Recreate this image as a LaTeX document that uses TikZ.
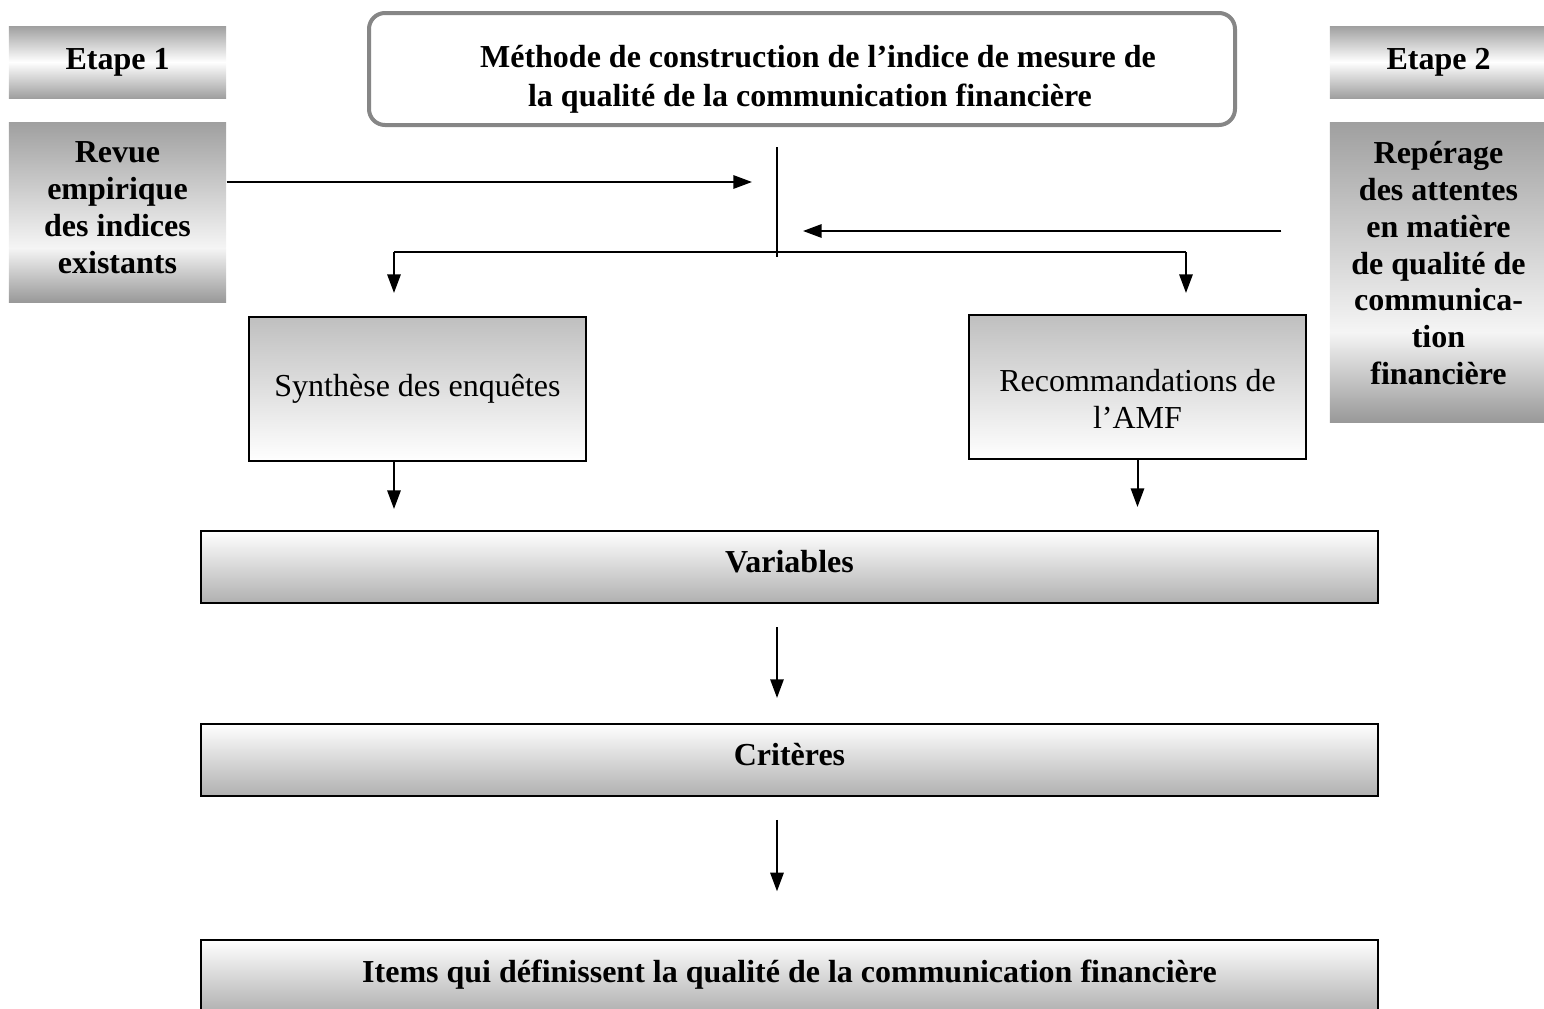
\documentclass[tikz,border=0pt]{standalone}
\usepackage{fontspec}
\setmainfont{Liberation Serif}
\usetikzlibrary{positioning}
\usetikzlibrary{calc}
\usetikzlibrary{arrows.meta}
\pgfdeclareverticalshading{metal}{100bp}{color(0bp)=(gray!80); color(25bp)=(gray!80); color(40bp)=(gray!8); color(75bp)=(gray!75); color(100bp)=(gray!75)}
\tikzstyle{etape} = [
	top color = gray!75,
	bottom color = gray!75,
	middle color = white,
	minimum width=81.4pt,
	minimum height=27pt,
	inner sep=0pt,
	font=\bfseries\fontsize{12}{13.8}\selectfont
]
\tikzstyle{revue} = [
	shading=metal,
	minimum width=81.4pt,
	inner sep=0pt,
	align=center,
	font=\bfseries\fontsize{12}{13.8}\selectfont
]
\tikzstyle{titre} = [
	draw=gray!95,
	line width=1.5pt,
	rounded corners=6pt,
	fill=white,
	minimum width=324.75pt,
	minimum height=42pt,
	align=center,
	font=\bfseries\fontsize{12}{14.6}\selectfont
]
\tikzstyle{source} = [
	draw,
	line width=0.75pt,
	top color = gray!50,
	bottom color = white,
	minimum width=126.4pt,
	minimum height=54pt,
	align=center,
	font=\fontsize{12}{13.8}\selectfont
]
\tikzstyle{etage} = [
	draw,
	line width=0.75pt,
	top color = white,
	bottom color = gray!62,
	minimum width=441.4pt,
	minimum height=27pt,
	text depth=4pt,
	font=\bfseries\fontsize{12}{13.8}\selectfont
]
\tikzstyle{fleche} = [
	-{Triangle[length=7pt,width=5pt]},
	line width=0.75pt
]

\begin{document}
\begin{tikzpicture}[x=0.375pt, y=-0.375pt]
	\useasboundingbox (0,0) rectangle (1544,1008);
	
	%
	% Etapes
	\node[etape] (e1) at (117.5,62) {Etape 1};
	\node[revue, minimum height=67.5pt, text depth=3.4pt] (rv) at (117.5,212) {Revue\\empirique\\des indices\\existants};
	\node[etape] (e2) at (1438.5,62) {Etape 2};
	\node[revue, minimum height=112.5pt, text depth=6.8pt] (rp) at (1438.5,272) {Repérage\\des attentes\\en matière\\de qualité de\\communica-\\tion\\financière};
	
	%
	% Titre
	\node[titre] (t) at (802,69) {\rule{0pt}{16pt}\hspace*{12pt}Méthode de construction de l’indice de mesure de\\\hspace*{6pt}la qualité de la communication financière};
	
	%
	% Sources
	\node[source] (syn) at (417.5,389) {Synthèse des enquêtes};
	\node[source] (amf) at (1137.5,387) {\rule{0pt}{17pt}Recommandations de\\l’AMF};
	
	%
	% Etages
	\node[etage] (var) at (789.5,567) {Variables};
	\node[etage, below=44.6pt of var] (crit) {Critères};
	\node[etage, below=53.4pt of crit] (items) {Items qui définissent la qualité de la communication financière};
	
	%
	% Liaisons
	\coordinate (h) at (777,147);
	\coordinate (b) at (777,257);
	\coordinate (g) at (394,252);
	\coordinate (d) at (1186,252);
	\coordinate (m1) at (752,182);
	\coordinate (m2) at (803,231);
	\draw[line width=0.5pt] (h) -- (b);
	\draw[fleche] (rv.east |- m1) -- (m1);
	\draw[fleche] (rp.west |- m2) ++(-48,0) -- (m2);
	\draw[line width=0.75pt] (g) -- (d);
	\draw[fleche] (g) -- ++(0,41);
	\draw[fleche] (d) -- ++(0,41);
	\draw[fleche] (syn.south -| g) -- ++(0,47);
	\draw[fleche] (amf.south) -- ++(0,47);
	\draw[fleche] ($(var.south)+(-12.5,23)$) -- ($(crit.north)+(-12.5,-25)$);
	\draw[fleche] ($(crit.south)+(-12.5,23)$) -- ($(items.north)+(-12.5,-48)$);
	
\end{tikzpicture}
\end{document}
